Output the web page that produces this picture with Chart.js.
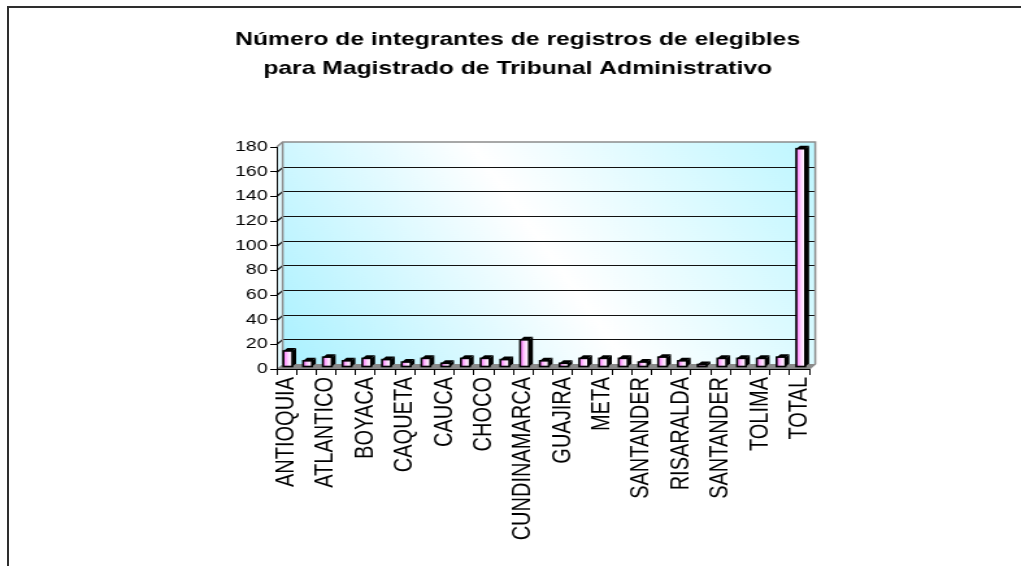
<!DOCTYPE html>
<html>
<head>
<meta charset="utf-8">
<title>Número de integrantes de registros de elegibles</title>
<script src="https://cdn.jsdelivr.net/npm/chart.js@4.4.0/dist/chart.umd.min.js"></script>
<style>
  html, body { margin: 0; padding: 0; background: #fff; }
  body { position: relative; width: 1021px; height: 566px; overflow: hidden; }
  #frame { position: absolute; left: 7px; top: 6px; width: 1100px; height: 700px; border: 2px solid #2e2e2e; box-sizing: border-box; }
  /* the original picture is stretched sideways, so the chart is drawn narrow and widened */
  #wrap { position: absolute; left: 0; top: 0; width: 786px; height: 566px; transform: scaleX(1.299); transform-origin: 0 0; }
</style>
</head>
<body>
<div id="frame"></div>
<div id="wrap"><canvas id="chart" width="786" height="566"></canvas></div>
<script>
const categories = [
  'ANTIOQUIA', 'ARAUCA', 'ATLANTICO', 'BOLIVAR', 'BOYACA', 'CALDAS', 'CAQUETA',
  'CASANARE', 'CAUCA', 'CESAR', 'CHOCO', 'CORDOBA', 'CUNDINAMARCA', 'HUILA',
  'GUAJIRA', 'MAGDALENA', 'META', 'NARIÑO', 'SANTANDER', 'QUINDIO', 'RISARALDA',
  'SAN ANDRES', 'SANTANDER', 'SUCRE', 'TOLIMA', 'VALLE', 'TOTAL'
];
const integrantes = [13, 5, 8, 5, 7, 6, 4, 7, 3, 7, 7, 6, 22, 5, 3, 7, 7, 7, 4, 8, 5, 2, 7, 7, 7, 8, 177];
const yTickValues = [0, 20, 40, 60, 80, 100, 120, 140, 160, 180];
const titleLines = [
  'Número de integrantes de registros de elegibles',
  'para Magistrado de Tribunal Administrativo'
];

const FONT = "'Liberation Sans', Arial, sans-serif";
const wallDepth = { dx: 4.6, dy: -5 };   // back wall offset from the front plane
const barDepth = { dx: 3, dy: -3 };      // depth of each column
const barShift = { dx: 1, dy: -2 };      // columns stand a bit behind the front edge

function poly(ctx, pts) {
  ctx.beginPath();
  ctx.moveTo(pts[0][0], pts[0][1]);
  pts.slice(1).forEach(p => ctx.lineTo(p[0], p[1]));
  ctx.closePath();
}

// Excel style 3D walls, floor and columns
const excel3d = {
  id: 'excel3d',
  beforeDraw(chart) {
    const { ctx, chartArea: a, scales: { y } } = chart;
    const { dx, dy } = wallDepth;
    ctx.save();

    // side wall
    ctx.fillStyle = '#e2faff';
    poly(ctx, [[a.left, a.top], [a.left + dx, a.top + dy], [a.left + dx, a.bottom + dy], [a.left, a.bottom]]);
    ctx.fill();

    // back wall
    const g = ctx.createLinearGradient(a.left + dx, a.bottom + dy, a.right + dx, a.top + dy);
    g.addColorStop(0, '#a9f1ff');
    g.addColorStop(0.5, '#ffffff');
    g.addColorStop(1, '#bdf6ff');
    ctx.fillStyle = g;
    ctx.fillRect(a.left + dx, a.top + dy, a.right - a.left, a.bottom - a.top);

    // floor
    ctx.fillStyle = '#898989';
    poly(ctx, [[a.left, a.bottom], [a.left + dx, a.bottom + dy], [a.right + dx, a.bottom + dy], [a.right, a.bottom]]);
    ctx.fill();

    // gridlines on the back wall
    const top = yTickValues[yTickValues.length - 1];
    ctx.lineWidth = 1.2;
    ctx.strokeStyle = '#111';
    yTickValues.forEach(v => {
      if (v === 0 || v === top) return;
      const yy = Math.round(y.getPixelForValue(v)) + 0.5;
      ctx.beginPath();
      ctx.moveTo(a.left, yy);
      ctx.lineTo(a.left + dx, yy + dy);
      ctx.lineTo(a.right + dx, yy + dy);
      ctx.stroke();
    });

    // wall edges
    ctx.lineWidth = 1.5;
    ctx.strokeStyle = '#8c8c8c';
    ctx.beginPath();
    ctx.moveTo(a.left, a.top);
    ctx.lineTo(a.left + dx, a.top + dy);
    ctx.lineTo(a.right + dx, a.top + dy);
    ctx.lineTo(a.right + dx, a.bottom + dy);
    ctx.lineTo(a.right, a.bottom);
    ctx.stroke();
    ctx.beginPath();
    ctx.moveTo(a.left + dx, a.top + dy);
    ctx.lineTo(a.left + dx, a.bottom + dy);
    ctx.stroke();
    ctx.restore();
  },
  afterDatasetsDraw(chart) {
    const ctx = chart.ctx;
    const { dx, dy } = barDepth;
    ctx.save();
    chart.getDatasetMeta(0).data.forEach(el => {
      const x0 = el.x - el.width / 2 + barShift.dx;
      const x1 = el.x + el.width / 2 + barShift.dx;
      const top = el.y + barShift.dy;
      const bot = el.base + barShift.dy;

      ctx.fillStyle = '#000';
      poly(ctx, [[x1, top], [x1 + dx, top + dy], [x1 + dx, bot + dy], [x1, bot]]);
      ctx.fill();
      poly(ctx, [[x0, top], [x0 + dx, top + dy], [x1 + dx, top + dy], [x1, top]]);
      ctx.fill();

      const g = ctx.createLinearGradient(x0, 0, x1, 0);
      g.addColorStop(0, '#ff6cff');
      g.addColorStop(0.55, '#ffd8ff');
      g.addColorStop(1, '#ffffff');
      ctx.fillStyle = g;
      ctx.fillRect(x0, top, x1 - x0, bot - top);
      ctx.lineWidth = 1.6;
      ctx.strokeStyle = '#000';
      ctx.strokeRect(x0, top, x1 - x0, bot - top);
    });
    ctx.restore();
  }
};

new Chart(document.getElementById('chart'), {
  type: 'bar',
  data: {
    labels: categories,
    datasets: [{
      data: integrantes,
      backgroundColor: 'rgba(0,0,0,0)',
      borderWidth: 0,
      categoryPercentage: 1,
      barPercentage: 0.45
    }]
  },
  options: {
    responsive: false,
    animation: false,
    devicePixelRatio: 1,
    layout: { padding: { left: 11, right: 0, top: 0, bottom: 0 } },
    plugins: {
      legend: { display: false },
      tooltip: { enabled: false },
      title: {
        display: true,
        text: titleLines,
        color: '#000',
        font: { family: FONT, size: 19, weight: 'bold', lineHeight: 1.5 },
        padding: { top: 26, bottom: 64 }
      }
    },
    scales: {
      x: {
        offset: true,
        grid: { offset: true, drawOnChartArea: false, tickLength: 6, color: '#000' },
        border: { color: '#000' },
        ticks: {
          autoSkip: false,
          minRotation: 90,
          maxRotation: 90,
          padding: 2,
          color: '#000',
          font: { family: FONT, size: 20 },
          callback: (v, i) => (i % 2 === 0 ? categories[i] : '')
        },
        afterFit(s) { s.height = 197; }
      },
      y: {
        min: 0,
        max: 180,
        afterBuildTicks(s) { s.ticks = yTickValues.map(v => ({ value: v })); },
        grid: { drawOnChartArea: false, tickLength: 5, color: '#000' },
        border: { color: '#000' },
        ticks: { padding: 2, color: '#000', font: { family: FONT, size: 15 } },
        afterFit(s) { s.width = 202; }
      },
      // empty axis that only keeps room on the right, as in the original
      y2: {
        position: 'right',
        grid: { display: false },
        ticks: { display: false },
        border: { display: false },
        afterFit(s) { s.width = 163; }
      }
    }
  },
  plugins: [excel3d]
});
</script>
</body>
</html>
